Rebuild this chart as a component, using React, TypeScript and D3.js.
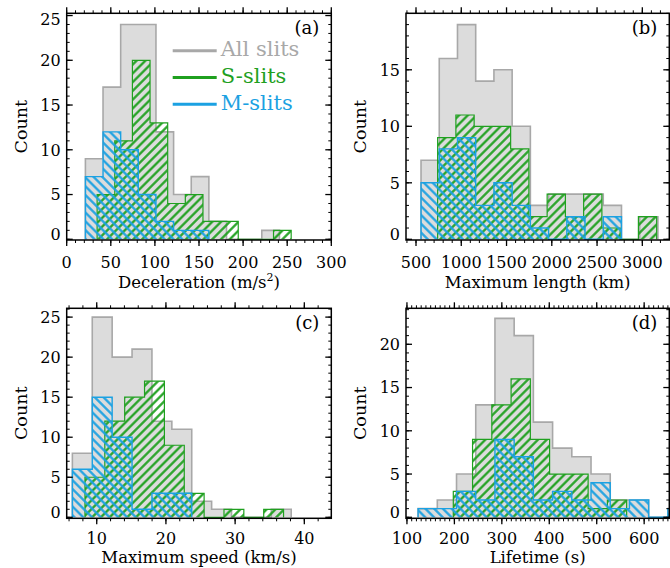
import React from "react";
import * as d3 from "d3";

// ---------- data (counts) ----------
// (a) Deceleration (m/s^2)
const decelAllCounts = [9, 17, 24, 24, 12, 5, 7, 2, 0, 0, 1];
const decelSCounts = [5, 11, 20, 13, 4, 5, 2, 2, 0, 0, 1];
const decelMCounts = [7, 12, 10, 5, 2, 1, 1];
const decelBins = { allStart: 21.2, sStart: 34.5, mStart: 21.2, width: 20, sWidth: 20 };
const decelXTicks = [0, 50, 100, 150, 200, 250, 300];
const decelYTicks = [0, 5, 10, 15, 20, 25];

// (b) Maximum length (km)
const lengthAllCounts = [7, 16, 19, 14, 15, 10, 3, 4, 4, 4, 3, 0, 2];
const lengthSCounts = [9, 11, 10, 10, 8, 2, 4, 2, 4, 1, 0, 2];
const lengthMCounts = [5, 8, 9, 3, 5, 3, 1, 0, 2, 0, 2];
const lengthBins = { allStart: 555.5, sStart: 739, mStart: 555.5, width: 201.3, sWidth: 201.6 };
const lengthXTicks = [500, 1000, 1500, 2000, 2500, 3000];
const lengthYTicks = [0, 5, 10, 15];

// (c) Maximum speed (km/s)
const speedAllCounts = [8, 25, 20, 21, 12, 11, 2, 1, 0, 0, 1];
const speedSCounts = [5, 12, 15, 17, 9, 3, 0, 1, 0, 1];
const speedMCounts = [6, 15, 10, 1, 3, 3];
const speedBins = { allStart: 6.48, sStart: 8.3, mStart: 6.48, width: 2.875, sWidth: 2.87 };
const speedXTicks = [10, 20, 30, 40];
const speedYTicks = [0, 5, 10, 15, 20, 25];

// (d) Lifetime (s)
const lifeAllCounts = [1, 2, 5, 13, 23, 21, 11, 8, 7, 5, 2, 2, 0, 1];
const lifeSCounts = [3, 9, 13, 16, 9, 5, 5, 1, 2];
const lifeMCounts = [1, 1, 3, 2, 9, 7, 2, 3, 2, 4, 1, 2, 0, 1];
const lifeBins = { allStart: 123.5, sStart: 197.7, mStart: 123.5, width: 40.5, sWidth: 40.6 };
const lifeXTicks = [100, 200, 300, 400, 500, 600];
const lifeYTicks = [0, 5, 10, 15, 20];

const legendLabels = ["All slits", "S-slits", "M-slits"];

// ---------- style ----------
const FONT = "'DejaVu Serif', serif";
const GRAY_FILL = "#dcdcdc";
const GRAY_LINE = "#a8a8a8";
const GREEN = "#1fa01f";
const BLUE = "#1ba1e2";

type Hist = { start: number; width: number; counts: number[] };

type PanelDef = {
  key: string;
  label: string;
  left: number; right: number; top: number; bottom: number;
  tickOffset: number; titleOffset: number;
  xDomain: [number, number];
  yDomain: [number, number];
  xTicks: number[];
  xMinorStep: number;
  yTicks: number[];
  xTitle: React.ReactNode;
  all: Hist; s: Hist; m: Hist;
  legend?: boolean;
};

const panels: PanelDef[] = [
  {
    key: "a", label: "(a)",
    left: 66.7, right: 331.3, top: 13.3, bottom: 240,
    tickOffset: 27.5, titleOffset: 47.5,
    xDomain: [0, 300], yDomain: [-0.08, 25.25],
    xTicks: decelXTicks, xMinorStep: 10, yTicks: decelYTicks,
    xTitle: (
      <>
        Deceleration (m/s<tspan dy={-7} fontSize={11}>2</tspan><tspan dy={7}>)</tspan>
      </>
    ),
    all: { start: decelBins.allStart, width: decelBins.width, counts: decelAllCounts },
    s: { start: decelBins.sStart, width: decelBins.sWidth, counts: decelSCounts },
    m: { start: decelBins.mStart, width: decelBins.width, counts: decelMCounts },
    legend: true,
  },
  {
    key: "b", label: "(b)",
    left: 406, right: 669.3, top: 13.3, bottom: 240,
    tickOffset: 27.5, titleOffset: 47.5,
    xDomain: [389.5, 3298], yDomain: [-0.06, 20.0],
    xTicks: lengthXTicks, xMinorStep: 100, yTicks: lengthYTicks,
    xTitle: "Maximum length (km)",
    all: { start: lengthBins.allStart, width: lengthBins.width, counts: lengthAllCounts },
    s: { start: lengthBins.sStart, width: lengthBins.sWidth, counts: lengthSCounts },
    m: { start: lengthBins.mStart, width: lengthBins.width, counts: lengthMCounts },
  },
  {
    key: "c", label: "(c)",
    left: 66.7, right: 331.3, top: 308.3, bottom: 518.3,
    tickOffset: 25.8, titleOffset: 45,
    xDomain: [5.66, 43.9], yDomain: [-0.125, 26.1],
    xTicks: speedXTicks, xMinorStep: 2, yTicks: speedYTicks,
    xTitle: "Maximum speed (km/s)",
    all: { start: speedBins.allStart, width: speedBins.width, counts: speedAllCounts },
    s: { start: speedBins.sStart, width: speedBins.sWidth, counts: speedSCounts },
    m: { start: speedBins.mStart, width: speedBins.width, counts: speedMCounts },
  },
  {
    key: "d", label: "(d)",
    left: 406, right: 669.3, top: 308.3, bottom: 518.3,
    tickOffset: 25.8, titleOffset: 45,
    xDomain: [98, 653], yDomain: [-0.116, 24.16],
    xTicks: lifeXTicks, xMinorStep: 10, yTicks: lifeYTicks,
    xTitle: "Lifetime (s)",
    all: { start: lifeBins.allStart, width: lifeBins.width, counts: lifeAllCounts },
    s: { start: lifeBins.sStart, width: lifeBins.sWidth, counts: lifeSCounts },
    m: { start: lifeBins.mStart, width: lifeBins.width, counts: lifeMCounts },
  },
];

function Panel({ p }: { p: PanelDef }) {
  const x = d3.scaleLinear().domain(p.xDomain).range([p.left, p.right]);
  const y = d3.scaleLinear().domain(p.yDomain).range([p.bottom, p.top]);

  const step = (h: Hist, close: boolean) => {
    let d = `M${x(h.start)},${y(0)}`;
    h.counts.forEach((c, i) => {
      d += `V${y(c)}H${x(h.start + (i + 1) * h.width)}`;
    });
    d += `V${y(0)}`;
    if (close) d += "Z";
    return d;
  };

  const clipId = `clip-${p.key}`;
  const xMinor = d3.range(
    Math.ceil(p.xDomain[0] / p.xMinorStep) * p.xMinorStep,
    p.xDomain[1] + 1e-9,
    p.xMinorStep
  );
  const yMinor = d3.range(0, Math.floor(p.yDomain[1]) + 1, 1);
  const cx = (p.left + p.right) / 2;
  const cy = (p.top + p.bottom) / 2;
  const tickFs = 16;
  const half = tickFs * 0.729 / 2;

  return (
    <g>
      <defs>
        <clipPath id={clipId}>
          <rect x={p.left} y={p.top} width={p.right - p.left} height={p.bottom - p.top} />
        </clipPath>
      </defs>
      <g clipPath={`url(#${clipId})`}>
        <path d={step(p.all, true)} fill={GRAY_FILL} stroke="none" />
        <path d={step(p.all, false)} fill="none" stroke={GRAY_LINE} strokeWidth={1.6} />
        <path d={step(p.s, true)} fill="url(#hatchS)" stroke="none" />
        <path d={step(p.s, false)} fill="none" stroke={GREEN} strokeWidth={1.2} />
        <path d={step(p.m, true)} fill="url(#hatchM)" stroke="none" />
        <path d={step(p.m, false)} fill="none" stroke={BLUE} strokeWidth={1.4} />
      </g>

      {/* minor ticks */}
      {xMinor.map((v) => (
        <g key={`xm${v}`}>
          <line x1={x(v)} x2={x(v)} y1={p.bottom} y2={p.bottom + 3} stroke="#000" strokeWidth={1} />
          <line x1={x(v)} x2={x(v)} y1={p.top} y2={p.top - 3} stroke="#000" strokeWidth={1} />
        </g>
      ))}
      {yMinor.map((v) => (
        <g key={`ym${v}`}>
          <line x1={p.left} x2={p.left + 3} y1={y(v)} y2={y(v)} stroke="#000" strokeWidth={1} />
          <line x1={p.right} x2={p.right - 3} y1={y(v)} y2={y(v)} stroke="#000" strokeWidth={1} />
        </g>
      ))}
      {/* major ticks */}
      {p.xTicks.map((v) => (
        <g key={`xM${v}`}>
          <line x1={x(v)} x2={x(v)} y1={p.bottom} y2={p.bottom + 6} stroke="#000" strokeWidth={1.3} />
          <line x1={x(v)} x2={x(v)} y1={p.top} y2={p.top - 6} stroke="#000" strokeWidth={1.3} />
          <text x={x(v)} y={p.bottom + p.tickOffset} textAnchor="middle" fontFamily={FONT} fontSize={tickFs} fill="#000">
            {v}
          </text>
        </g>
      ))}
      {p.yTicks.map((v) => {
        const c = Math.min(Math.max(y(v), p.top + half), p.bottom - half);
        return (
          <g key={`yM${v}`}>
            <line x1={p.left} x2={p.left + 6} y1={y(v)} y2={y(v)} stroke="#000" strokeWidth={1.3} />
            <line x1={p.right} x2={p.right - 6} y1={y(v)} y2={y(v)} stroke="#000" strokeWidth={1.3} />
            <text x={p.left - 6} y={c + half} textAnchor="end" fontFamily={FONT} fontSize={tickFs} fill="#000">
              {v}
            </text>
          </g>
        );
      })}

      {/* frame */}
      <rect x={p.left} y={p.top} width={p.right - p.left} height={p.bottom - p.top} fill="none" stroke="#000" strokeWidth={1.5} />

      {/* panel label */}
      <text x={p.right - 12} y={p.top + 21} textAnchor="end" fontFamily={FONT} fontSize={18} fill="#000">
        {p.label}
      </text>

      {/* axis titles */}
      <text x={cx} y={p.bottom + p.titleOffset} textAnchor="middle" fontFamily={FONT} fontSize={16.5} fill="#000">
        {p.xTitle}
      </text>
      <text
        transform={`translate(${p.left - 40},${cy}) rotate(-90)`}
        textAnchor="middle"
        fontFamily={FONT}
        fontSize={17.5}
        fill="#000"
      >
        Count
      </text>

      {p.legend && (
        <g>
          {[GRAY_LINE, GREEN, BLUE].map((col, i) => (
            <g key={i}>
              <line x1={172.7} x2={216.7} y1={50.7 + i * 26.8} y2={50.7 + i * 26.8} stroke={col} strokeWidth={3} />
              <text x={220.7} y={55.5 + i * 27.3} fontFamily={FONT} fontSize={21} fill={col}>
                {legendLabels[i]}
              </text>
            </g>
          ))}
        </g>
      )}
    </g>
  );
}

export default function App() {
  return (
    <svg width={670} height={568} style={{ display: "block", position: "absolute", left: 0, top: 0, background: "#fff" }}>
      <defs>
        <pattern id="hatchS" patternUnits="userSpaceOnUse" width={6.2} height={6.2} patternTransform="rotate(45)">
          <line x1={3.1} y1={-1} x2={3.1} y2={8} stroke={GREEN} strokeWidth={2.2} />
        </pattern>
        <pattern id="hatchM" patternUnits="userSpaceOnUse" width={6.2} height={6.2} patternTransform="rotate(-45)">
          <line x1={3.1} y1={-1} x2={3.1} y2={8} stroke={BLUE} strokeWidth={2.2} />
        </pattern>
      </defs>
      <rect x={0} y={0} width={670} height={568} fill="#fff" />
      {panels.map((p) => (
        <Panel key={p.key} p={p} />
      ))}
    </svg>
  );
}
